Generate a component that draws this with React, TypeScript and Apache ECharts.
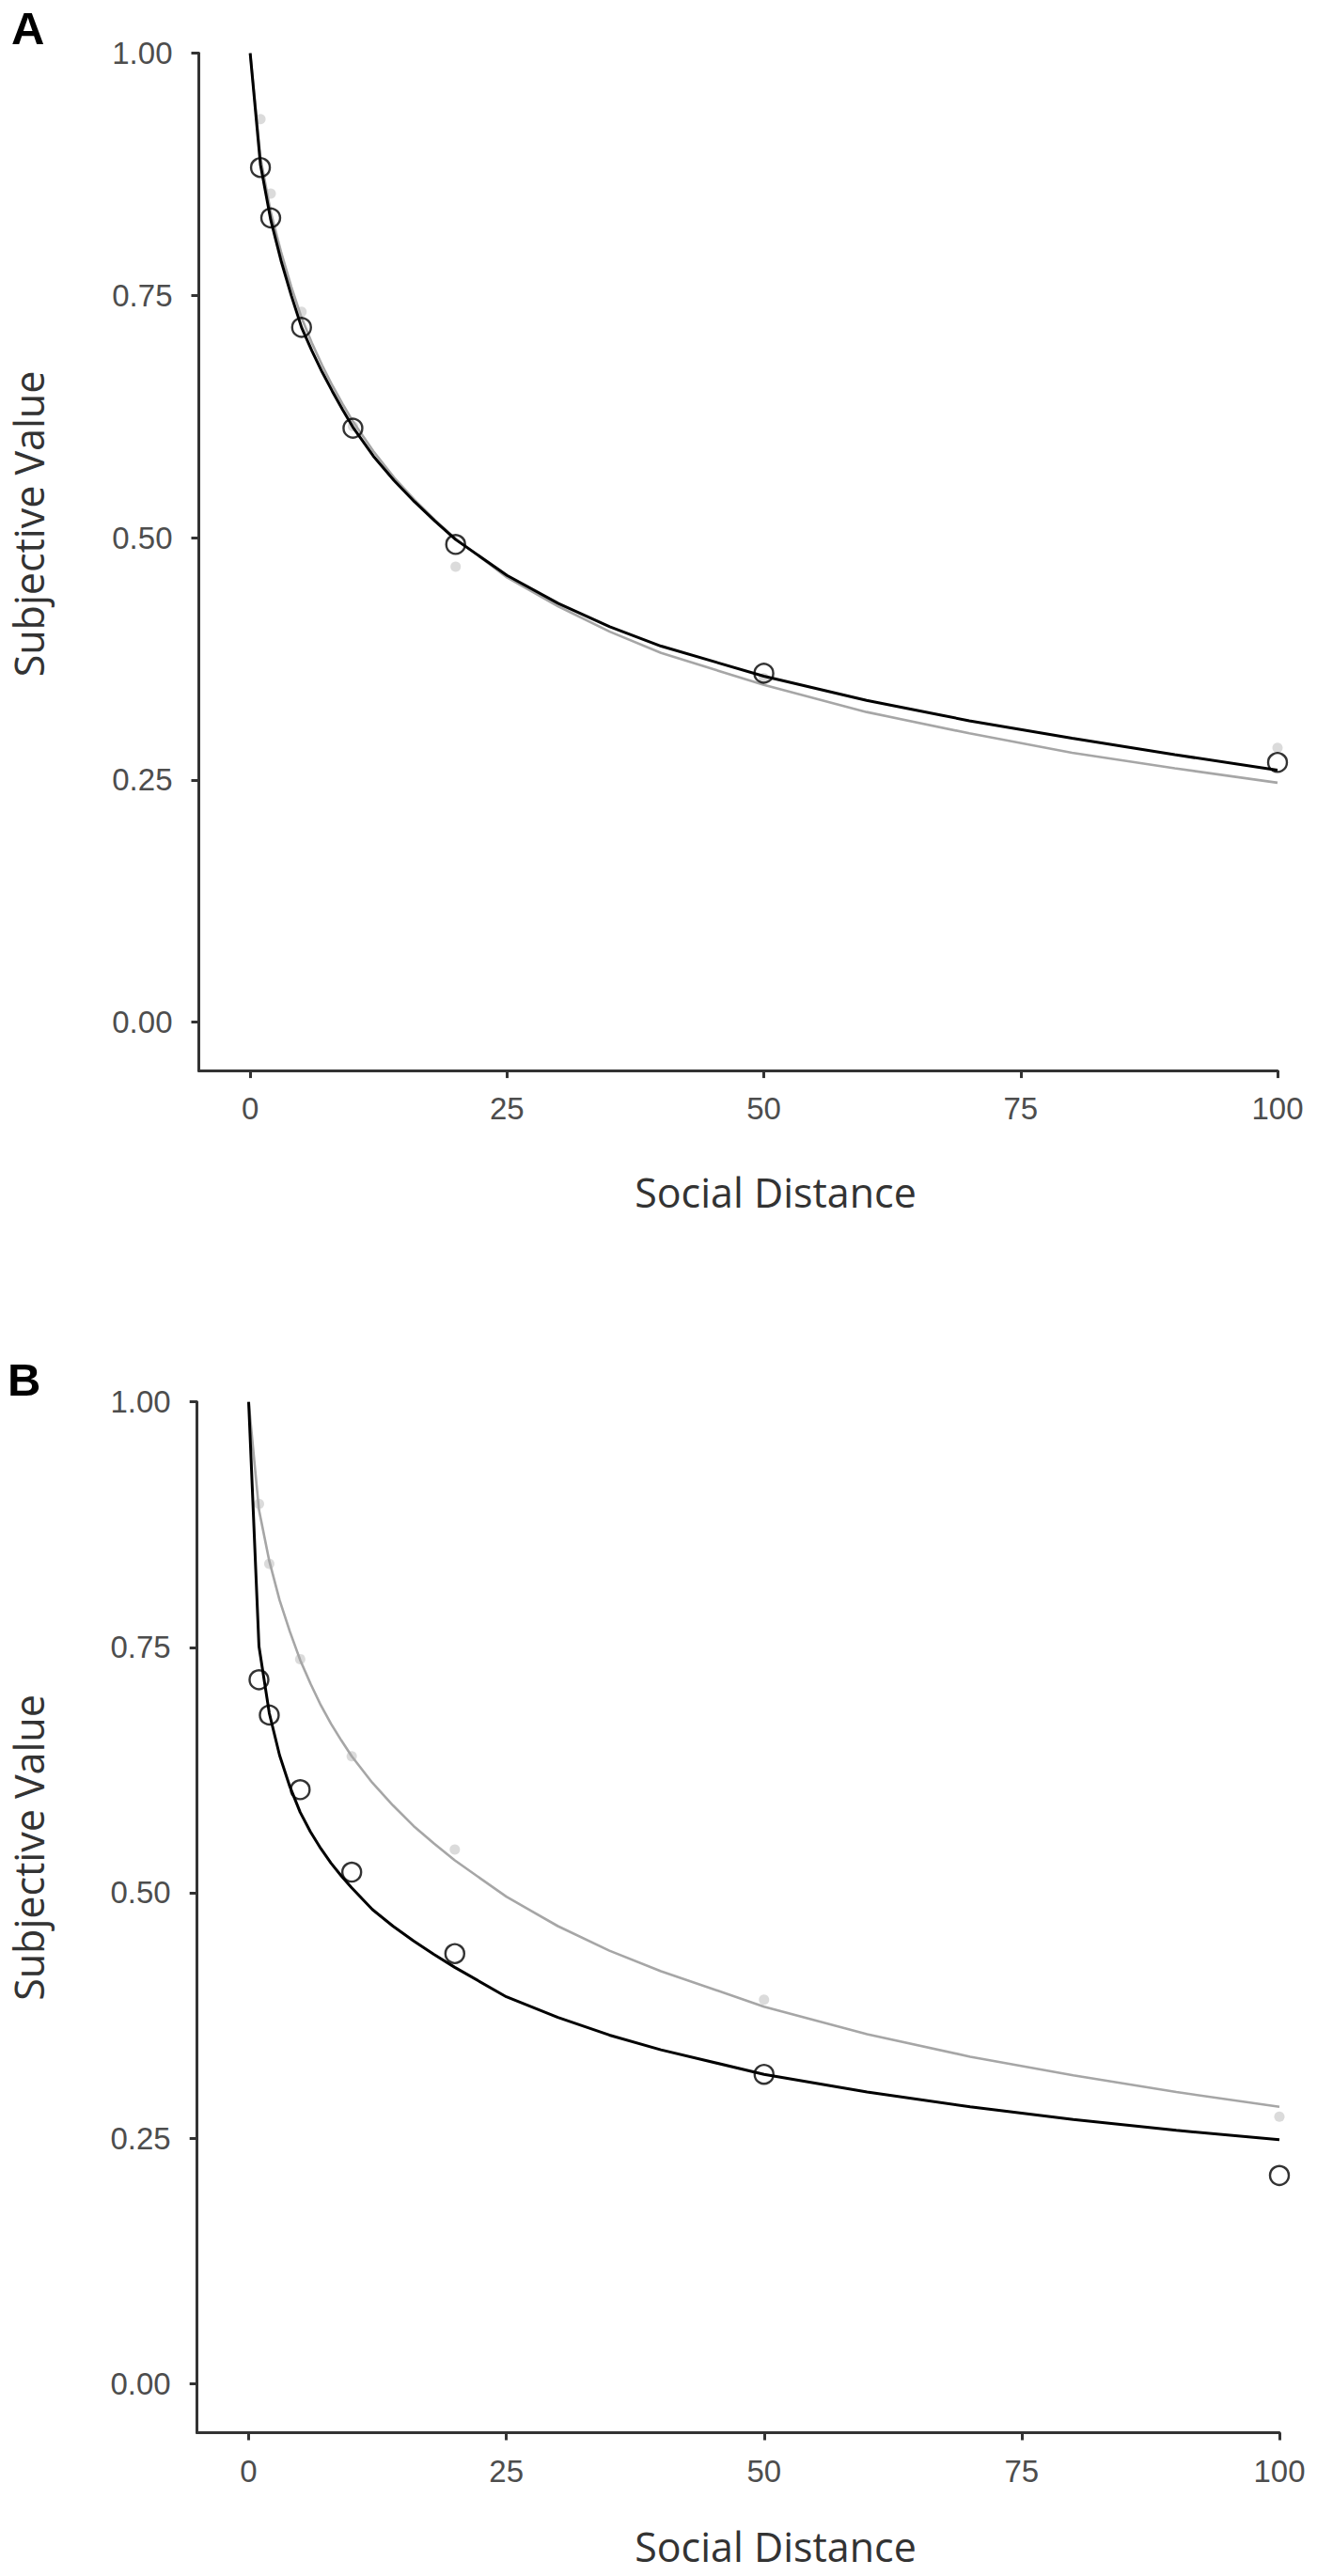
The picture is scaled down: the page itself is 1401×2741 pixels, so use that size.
import React, { useEffect, useRef } from "react";
import * as echarts from "echarts";

// Social distance at which model curves were read
const curveN = [0, 1, 2, 3, 4, 5, 6, 7, 8, 9, 10, 12, 14, 16, 18, 20, 25, 30, 35, 40, 50, 60, 70, 80, 90, 100];
// Social distance of observed points
const pointN = [1, 2, 5, 10, 20, 50, 100];

// Panel A
const curveABlack = [1, 0.885, 0.828, 0.786, 0.75, 0.717, 0.693, 0.671, 0.651, 0.632, 0.614, 0.584, 0.559, 0.537, 0.517, 0.498, 0.461, 0.432, 0.408, 0.388, 0.357, 0.332, 0.311, 0.293, 0.276, 0.26];
const curveAGray = [1, 0.892, 0.836, 0.795, 0.759, 0.727, 0.701, 0.678, 0.657, 0.638, 0.62, 0.589, 0.562, 0.539, 0.518, 0.499, 0.459, 0.429, 0.403, 0.381, 0.348, 0.32, 0.298, 0.278, 0.262, 0.247];
const pointsABlack = [0.882, 0.83, 0.717, 0.613, 0.493, 0.36, 0.268];
const pointsAGray = [0.932, 0.855, 0.733, 0.615, 0.47, 0.355, 0.283];

// Panel B
const curveBBlack = [1, 0.751, 0.683, 0.64, 0.608, 0.582, 0.562, 0.545, 0.53, 0.517, 0.505, 0.483, 0.466, 0.451, 0.437, 0.424, 0.394, 0.373, 0.355, 0.34, 0.315, 0.297, 0.282, 0.269, 0.258, 0.2485];
const curveBGray = [1, 0.89, 0.838, 0.798, 0.766, 0.737, 0.713, 0.691, 0.672, 0.655, 0.639, 0.612, 0.589, 0.568, 0.55, 0.533, 0.496, 0.466, 0.441, 0.42, 0.384, 0.356, 0.333, 0.314, 0.297, 0.282];
const pointsBBlack = [0.717, 0.681, 0.605, 0.521, 0.438, 0.315, 0.212];
const pointsBGray = [0.896, 0.835, 0.738, 0.639, 0.544, 0.391, 0.272];

// Axis ticks
const xTicks = [0, 25, 50, 75, 100];
const yTicks = [0, 0.25, 0.5, 0.75, 1];

const xTitle = "Social Distance";
const yTitle = "Subjective Value";
const panelLabels = ["A", "B"];

const W = 1401;
const H = 2741;

const zip = (xs: number[], ys: number[]) => xs.map((x, i) => [x, ys[i]]);

const AXIS_COLOR = "#333333";
const LABEL_COLOR = "#4d4d4d";

function makeXAxis(gridIndex: number) {
  return {
    type: "value",
    gridIndex,
    min: -5,
    max: 100,
    axisLine: { show: true, onZero: false, lineStyle: { color: AXIS_COLOR, width: 3 } },
    axisTick: { show: true, length: 8, customValues: xTicks, lineStyle: { color: AXIS_COLOR, width: 3 } },
    axisLabel: {
      show: true,
      customValues: xTicks,
      color: LABEL_COLOR,
      fontSize: 33,
      fontFamily: "Liberation Sans",
      margin: 24,
    },
    splitLine: { show: false },
  };
}

function makeYAxis(gridIndex: number) {
  return {
    type: "value",
    gridIndex,
    min: -0.05,
    max: 1,
    axisLine: { show: true, onZero: false, lineStyle: { color: AXIS_COLOR, width: 3 } },
    axisTick: { show: true, length: 8, customValues: yTicks, lineStyle: { color: AXIS_COLOR, width: 3 } },
    axisLabel: {
      show: true,
      customValues: yTicks,
      color: LABEL_COLOR,
      fontSize: 33,
      fontFamily: "Liberation Sans",
      margin: 28,
      formatter: (v: number) => v.toFixed(2),
    },
    splitLine: { show: false },
  };
}

function panelSeries(idx: number, cBlack: number[], cGray: number[], pBlack: number[], pGray: number[]) {
  return [
    {
      type: "scatter",
      xAxisIndex: idx,
      yAxisIndex: idx,
      data: zip(pointN, pGray),
      symbol: "circle",
      symbolSize: 11,
      itemStyle: { color: "#d2d2d2" },
      z: 1,
    },
    {
      type: "line",
      xAxisIndex: idx,
      yAxisIndex: idx,
      data: zip(curveN, cGray),
      showSymbol: false,
      symbol: "none",
      clip: false,
      lineStyle: { color: "#a6a6a6", width: 2.6 },
      z: 2,
    },
    {
      type: "line",
      xAxisIndex: idx,
      yAxisIndex: idx,
      data: zip(curveN, cBlack),
      showSymbol: false,
      symbol: "none",
      clip: false,
      lineStyle: { color: "#000000", width: 3 },
      z: 3,
    },
    {
      type: "scatter",
      xAxisIndex: idx,
      yAxisIndex: idx,
      data: zip(pointN, pBlack),
      symbol: "circle",
      symbolSize: 20,
      itemStyle: { color: "rgba(0,0,0,0)", borderColor: "#000000", borderWidth: 2.4 },
      z: 4,
    },
  ];
}

function textEl(text: string, x: number, y: number, font: string, fill: string, align: string, rotation = 0) {
  return {
    type: "text",
    x,
    y,
    rotation,
    silent: true,
    style: { text, font, fill, align, verticalAlign: "middle" },
  };
}

export default function App() {
  const ref = useRef<HTMLDivElement>(null);

  useEffect(() => {
    if (!ref.current) return;
    const chart = echarts.init(ref.current, undefined, { renderer: "svg" });
    const titleFont = '43px "Open Sans"';
    const panelFont = 'bold 49px "Liberation Sans"';
    chart.setOption({
      animation: false,
      backgroundColor: "#ffffff",
      grid: [
        { left: 211.5, top: 56.6, width: 1147.5, height: 1082.5 },
        { left: 209.7, top: 1491.7, width: 1151.3, height: 1096.8 },
      ],
      xAxis: [makeXAxis(0), makeXAxis(1)],
      yAxis: [makeYAxis(0), makeYAxis(1)],
      series: [
        ...panelSeries(0, curveABlack, curveAGray, pointsABlack, pointsAGray),
        ...panelSeries(1, curveBBlack, curveBGray, pointsBBlack, pointsBGray),
      ],
      graphic: [
        textEl(panelLabels[0], 12, 30, panelFont, "#000000", "left"),
        textEl(panelLabels[1], 8, 1468, panelFont, "#000000", "left"),
        textEl(xTitle, 825, 1268, titleFont, "#333333", "center"),
        textEl(xTitle, 825, 2709, titleFont, "#333333", "center"),
        textEl(yTitle, 30, 557.5, titleFont, "#333333", "center", Math.PI / 2),
        textEl(yTitle, 30, 1966, titleFont, "#333333", "center", Math.PI / 2),
      ],
    });
    return () => chart.dispose();
  }, []);

  return (
    <div
      ref={ref}
      style={{ position: "absolute", left: 0, top: 0, width: W, height: H, background: "#fff" }}
    />
  );
}
